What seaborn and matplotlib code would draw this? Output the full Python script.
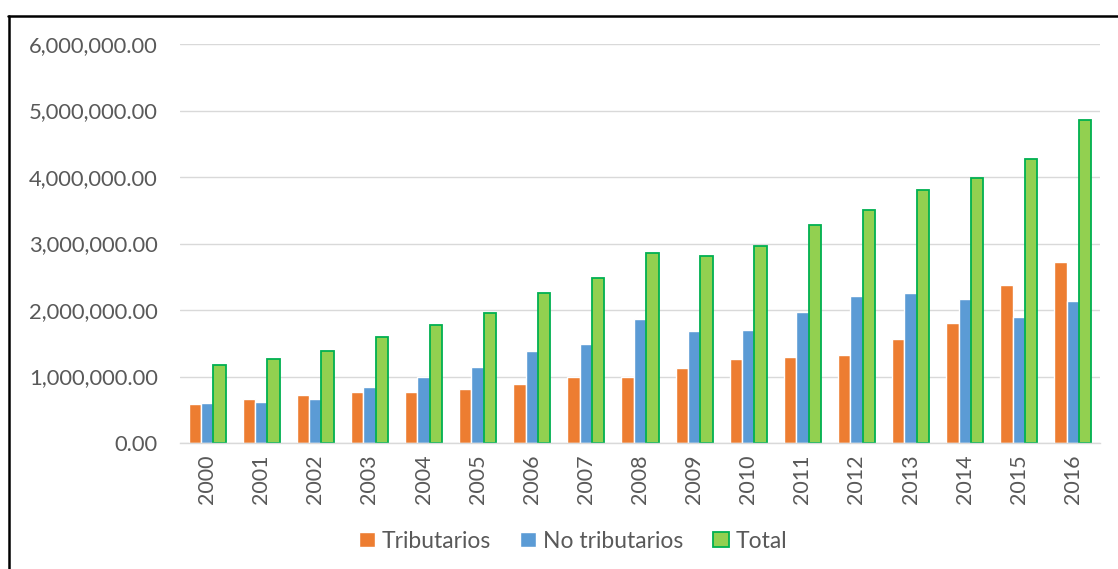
import numpy as np
import pandas as pd
import matplotlib
matplotlib.use('Agg')
import matplotlib.pyplot as plt
from matplotlib.lines import Line2D
from matplotlib.ticker import FuncFormatter
import seaborn as sns

# Valores (millones -> unidades)
years = [str(y) for y in range(2000, 2017)]
tributarios = [0.586, 0.656, 0.726, 0.767, 0.767, 0.816, 0.89, 1.0, 1.0, 1.128,
               1.268, 1.288, 1.323, 1.564, 1.81, 2.375, 2.715]
no_tributarios = [0.60, 0.62, 0.656, 0.836, 0.997, 1.14, 1.38, 1.49, 1.865, 1.684,
                  1.704, 1.975, 2.21, 2.25, 2.17, 1.90, 2.14]
total = [1.17, 1.27, 1.39, 1.59, 1.77, 1.955, 2.26, 2.475, 2.857, 2.817,
         2.962, 3.278, 3.51, 3.80, 3.985, 4.27, 4.85]
series = ['Tributarios', 'No tributarios', 'Total']
colors = ['#ED7D31', '#5B9BD5', '#92D050']
yticks = [0, 1e6, 2e6, 3e6, 4e6, 5e6, 6e6]

df = pd.DataFrame({
    'Año': years * 3,
    'Serie': [s for s in series for _ in years],
    'Valor': np.array(tributarios + no_tributarios + total) * 1e6,
})

sns.set_style('white')
plt.rcParams['font.family'] = ['Lato', 'DejaVu Sans']
text_color = '#595959'

fig = plt.figure(figsize=(11.18, 5.69), dpi=100)
ax = fig.add_axes([180 / 1118, 1 - 443 / 569, 920 / 1118, 399 / 569])

sns.barplot(data=df, x='Año', y='Valor', hue='Serie', hue_order=series,
            palette=colors, saturation=1, width=0.685, legend=False, ax=ax)

# borde verde de la serie Total
for bar in ax.containers[2]:
    bar.set_edgecolor('#00B050')
    bar.set_linewidth(1.3)

ax.set_xlim(-0.5, len(years) - 0.5)
ax.set_ylim(0, 6e6)
ax.set_yticks(yticks)
ax.yaxis.set_major_formatter(FuncFormatter(lambda v, p: f'{v:,.2f}'))
ax.yaxis.grid(True, color='#D9D9D9', linewidth=1)
ax.set_axisbelow(True)
ax.set_xlabel('')
ax.set_ylabel('')

for s in ['top', 'right', 'left']:
    ax.spines[s].set_visible(False)
ax.spines['bottom'].set_color('#D9D9D9')
ax.spines['bottom'].set_linewidth(1)

ax.tick_params(axis='y', length=0, pad=16, labelsize=15.8, labelcolor=text_color)
ax.tick_params(axis='x', which='major', length=0, pad=8, labelsize=15.5,
               labelcolor=text_color, labelrotation=90)
ax.set_xticks(np.arange(-0.5, len(years)), minor=True)
ax.tick_params(axis='x', which='minor', length=6, color='#D9D9D9', width=1)

fig.legend(ax.containers, series, loc='center', bbox_to_anchor=(573 / 1118, 1 - 541 / 569),
           ncol=3, frameon=False, fontsize=16.5, labelcolor=text_color,
           handlelength=0.68, handleheight=0.68, handletextpad=0.3, columnspacing=1.3)

# marco del grafico (solo arriba e izquierda visibles)
fig.add_artist(Line2D([8 / 1118, 1], [1 - 15.5 / 569, 1 - 15.5 / 569],
                      transform=fig.transFigure, color='black', linewidth=1.8))
fig.add_artist(Line2D([8.5 / 1118, 8.5 / 1118], [0, 1 - 15.5 / 569],
                      transform=fig.transFigure, color='black', linewidth=1.8))

fig.savefig('out.png', dpi=100, facecolor='white')
